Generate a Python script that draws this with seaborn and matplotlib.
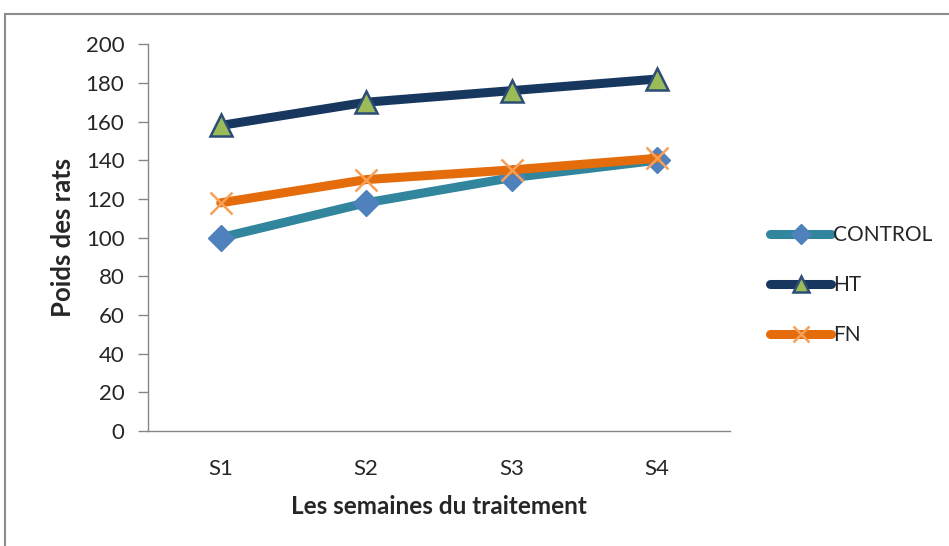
import matplotlib
matplotlib.use("Agg")
import matplotlib.pyplot as plt
import seaborn as sns
import pandas as pd
from matplotlib.lines import Line2D
from matplotlib.patches import Rectangle

# Weekly body weight of the three groups
weeks = ["S1", "S2", "S3", "S4"]
control = [100, 118, 131, 140]
ht = [158, 170, 176, 182]
fn = [118, 130, 135, 141]

yticks = [0, 20, 40, 60, 80, 100, 120, 140, 160, 180, 200]

sns.set_theme(style="white")
plt.rcParams["font.family"] = ["Lato", "DejaVu Sans"]

fig = plt.figure(figsize=(9.49, 5.46), dpi=100)
ax = fig.add_axes([0.156, 0.2106, 0.613, 0.7084])

series = [
    ("CONTROL", control, dict(color="#31859C", marker="D", markersize=13,
                             markerfacecolor="#4F81BD", markeredgecolor="#4F81BD",
                             markeredgewidth=1)),
    ("HT", ht, dict(color="#17375E", marker="^", markersize=16,
                    markerfacecolor="#9BBB59", markeredgecolor="#2C4D75",
                    markeredgewidth=1.8)),
    ("FN", fn, dict(color="#E46C0A", marker="x", markersize=16,
                    markeredgecolor="#F7A05A", markeredgewidth=1.8)),
]

df = pd.DataFrame({"semaine": weeks})
for name, vals, _ in series:
    df[name] = vals

for name, vals, style in series:
    sns.lineplot(data=df, x="semaine", y=name, ax=ax, linewidth=6.5,
                 solid_capstyle="round", sort=False, label=name, **style)

ax.set_xlim(-0.5, 3.5)
ax.set_ylim(0, 200)
ax.set_yticks(yticks)
ax.set_yticklabels([str(v) for v in yticks], fontsize=16)
ax.tick_params(axis="y", which="both", left=True, length=7, width=1,
               color="#868686", pad=10)
ax.tick_params(axis="x", bottom=False, pad=14, labelsize=16)

for side in ["top", "right"]:
    ax.spines[side].set_visible(False)
for side in ["left", "bottom"]:
    ax.spines[side].set_color("#868686")
    ax.spines[side].set_linewidth(1)

ax.set_xlabel("Les semaines du traitement", fontsize=17.5, fontweight="bold",
              labelpad=12)
ax.set_ylabel("Poids des rats", fontsize=18.5, fontweight="bold", labelpad=8)

ax.get_legend().remove()
legend_marker_sizes = [10, 12, 12]
handles = []
for (name, vals, style), ms in zip(series, legend_marker_sizes):
    st = dict(style)
    st["markersize"] = ms
    handles.append(Line2D([0], [0], linewidth=6.5, solid_capstyle="round", **st))
leg = fig.legend(handles, [s[0] for s in series], loc="center left",
                 bbox_to_anchor=(0.803, 0.478), frameon=False, fontsize=15,
                 handlelength=2.9, handletextpad=0.1, labelspacing=1.45,
                 borderaxespad=0)

# Chart area frame
fig.patches.append(Rectangle((5 / 949, -0.05), 1.1, 1 - 14 / 546 + 0.05,
                             transform=fig.transFigure, fill=False,
                             edgecolor="#8C8C8C", linewidth=1.5))

fig.savefig("out.png", dpi=100)
